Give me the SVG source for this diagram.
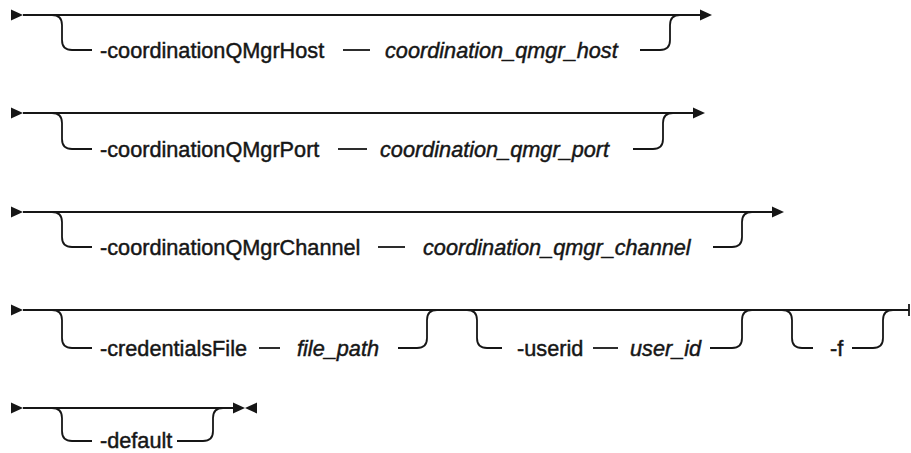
<svg xmlns="http://www.w3.org/2000/svg" width="911" height="453" viewBox="0 0 911 453">
<defs>
<style>
.ln{fill:none;stroke:#161616;stroke-width:1.8}
.ar{fill:#161616;stroke:none}
.kw{font-family:"Liberation Sans",Arial,sans-serif;font-size:21.7px;fill:#161616;stroke:#161616;stroke-width:0.45}
.var{font-family:"Liberation Sans",Arial,sans-serif;font-size:21.7px;font-style:italic;fill:#161616;stroke:#161616;stroke-width:0.45}
</style>
</defs>
<rect width="911" height="453" fill="#ffffff"/>
<g id="connectors">
<!-- Row 1 -->
<polygon class="ar" points="11,9.5 23,15 11,20.5"/>
<path class="ln" d="M23,15 H700"/>
<polygon class="ar" points="700,9.5 712,15 700,20.5"/>
<path class="ln" d="M52,15 Q62,15 62,25 V40 Q62,50 72,50 H92"/>
<path class="ln" d="M343,50 H370"/>
<path class="ln" d="M640,50 H660 Q670,50 670,40 V25 Q670,15 680,15"/>
<!-- Row 2 -->
<polygon class="ar" points="11,107.5 23,113 11,118.5"/>
<path class="ln" d="M23,113 H693"/>
<polygon class="ar" points="693,107.5 705,113 693,118.5"/>
<path class="ln" d="M52,113 Q62,113 62,123 V139 Q62,149 72,149 H92"/>
<path class="ln" d="M338,149 H367"/>
<path class="ln" d="M633,149 H653 Q663,149 663,139 V123 Q663,113 673,113"/>
<!-- Row 3 -->
<polygon class="ar" points="11,206.5 23,212 11,217.5"/>
<path class="ln" d="M23,212 H772"/>
<polygon class="ar" points="772,206.5 784,212 772,217.5"/>
<path class="ln" d="M52,212 Q62,212 62,222 V237 Q62,247 72,247 H92"/>
<path class="ln" d="M378,247 H405"/>
<path class="ln" d="M713,247 H732 Q742,247 742,237 V222 Q742,212 752,212"/>
<!-- Row 4 -->
<polygon class="ar" points="11,304.5 23,310 11,315.5"/>
<path class="ln" d="M23,310 H909"/>
<path class="ln" d="M909,304 V316"/>
<path class="ln" d="M52,310 Q62,310 62,320 V338 Q62,348 72,348 H92"/>
<path class="ln" d="M259,348 H280"/>
<path class="ln" d="M398,348 H417 Q427,348 427,338 V320 Q427,310 437,310"/>
<path class="ln" d="M467,310 Q477,310 477,320 V338 Q477,348 487,348 H502"/>
<path class="ln" d="M593,348 H618"/>
<path class="ln" d="M710,348 H732 Q742,348 742,338 V320 Q742,310 752,310"/>
<path class="ln" d="M782,310 Q792,310 792,320 V338 Q792,348 802,348 H813"/>
<path class="ln" d="M852,348 H873 Q883,348 883,338 V320 Q883,310 893,310"/>
<!-- Row 5 -->
<polygon class="ar" points="11,402.5 23,408 11,413.5"/>
<path class="ln" d="M23,408 H233"/>
<polygon class="ar" points="233,402.5 245,408 233,413.5"/>
<polygon class="ar" points="257,402.5 245,408 257,413.5"/>
<path class="ln" d="M52,408 Q62,408 62,418 V431 Q62,441 72,441 H92"/>
<path class="ln" d="M177,441 H203 Q213,441 213,431 V418 Q213,408 223,408"/>
</g>
<g id="node-coordinationQMgrHost"><text class="kw" x="100" y="58">-coordinationQMgrHost</text></g>
<g id="node-coordination_qmgr_host"><text class="var" x="385" y="58">coordination_qmgr_host</text></g>
<g id="node-coordinationQMgrPort"><text class="kw" x="100" y="157">-coordinationQMgrPort</text></g>
<g id="node-coordination_qmgr_port"><text class="var" x="380" y="157">coordination_qmgr_port</text></g>
<g id="node-coordinationQMgrChannel"><text class="kw" x="100" y="255">-coordinationQMgrChannel</text></g>
<g id="node-coordination_qmgr_channel"><text class="var" x="423" y="255">coordination_qmgr_channel</text></g>
<g id="node-credentialsFile"><text class="kw" x="100" y="356">-credentialsFile</text></g>
<g id="node-file_path"><text class="var" x="297" y="356">file_path</text></g>
<g id="node-userid"><text class="kw" x="517" y="356">-userid</text></g>
<g id="node-user_id"><text class="var" x="630" y="356">user_id</text></g>
<g id="node-f"><text class="kw" x="830" y="356">-f</text></g>
<g id="node-default"><text class="kw" x="100" y="448">-default</text></g>
</svg>
